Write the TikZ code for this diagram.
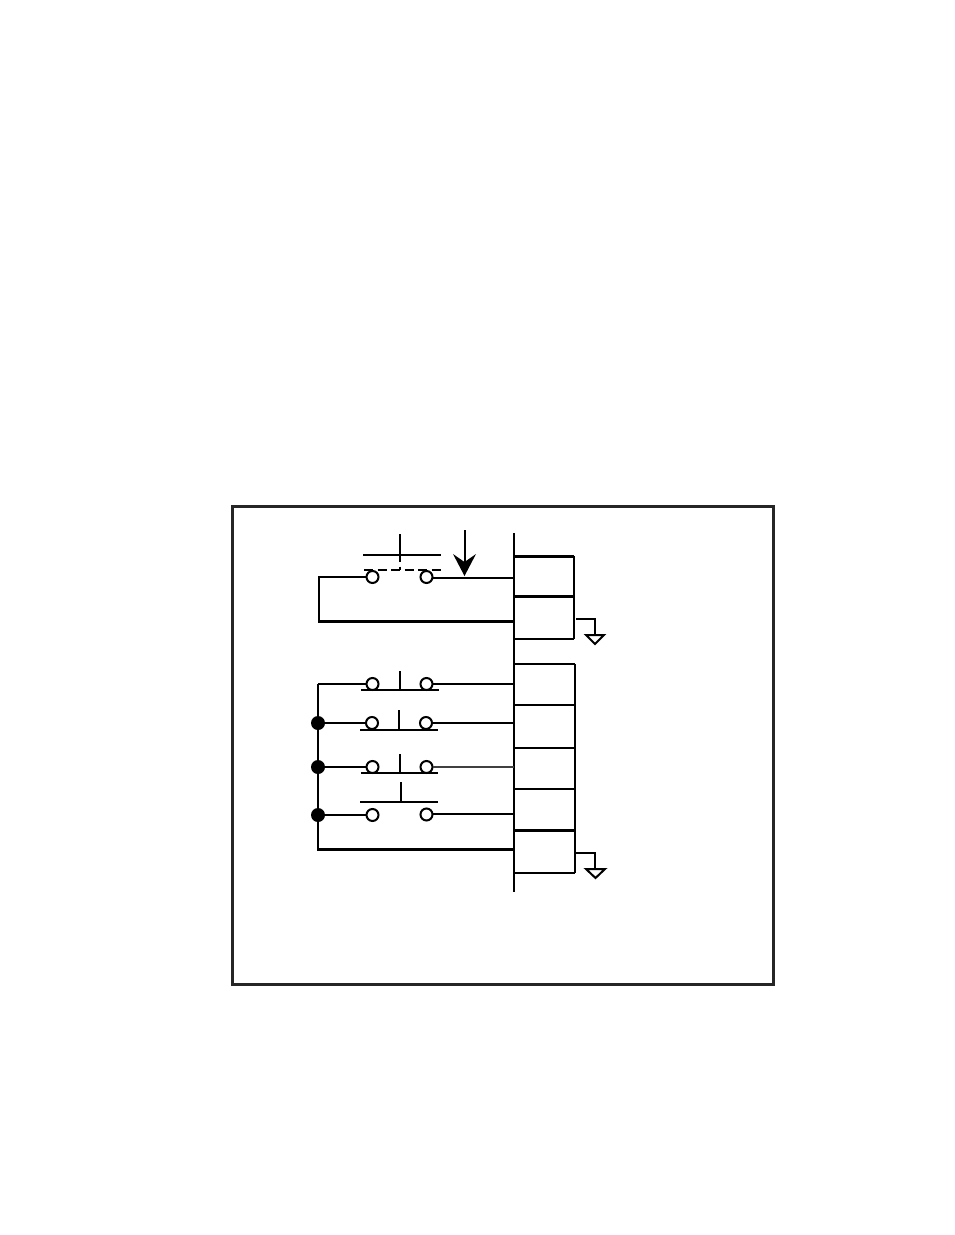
\documentclass[tikz,border=0pt]{standalone}
\tikzset{
  wire/.style={draw=black,line width=2pt},
  thick wire/.style={draw=black,line width=3pt},
  frame/.style={draw=black!85,line width=2.8pt},
  terminal/.style={circle,draw=black,fill=white,line width=2pt,minimum size=12pt,inner sep=0pt,outer sep=0pt},
  junction/.style={circle,fill=black,draw=none,minimum size=14pt,inner sep=0pt,outer sep=0pt},
  groundtri/.style={draw=black,line width=2pt,fill=white,line join=miter},
  pt/.style={coordinate}
}
\begin{document}
\begin{tikzpicture}[x=1pt,y=-1pt]
\useasboundingbox (0,0) rectangle (954,1235);
% frame
\node[pt] (f1) at (232.5,506.5) {};
\node[pt] (f2) at (773.5,984.5) {};
\draw[frame] (f1) rectangle (f2);
% bus
\node[pt] (busT) at (514,533) {};
\node[pt] (busB) at (514,892) {};
\draw[wire] (busT) -- (busB);

% upper block
\node[pt] (a0) at (514,556) {};
\node[pt] (a0r) at (574,556) {};
\node[pt] (a1) at (514,596.5) {};
\node[pt] (a1r) at (574,596.5) {};
\node[pt] (a2) at (514,639) {};
\node[pt] (a2r) at (574,639) {};
\draw[thick wire] (a0) -- (a0r);
\draw[thick wire] (a1) -- (a1r);
\draw[wire] (a2) -- (a2r);
\draw[wire] (a0r) -- (a2r);
% upper ground
\node[pt] (g1a) at (576,619) {};
\node[pt] (g1b) at (595,619) {};
\node[pt] (g1c) at (595,634) {};
\draw[wire] (g1a) -- (g1b) -- (g1c);
\draw[groundtri] (586,635) -- (604,635) -- (595,644) -- cycle;

% arrow
\node[pt] (arT) at (465,530) {};
\node[pt] (arB) at (465,562) {};
\draw[wire] (arT) -- (arB);
\fill[black] (464.5,576) -- (453,554) -- (464.5,562) -- (476,554) -- cycle;

% switch 0
\node[terminal] (s0l) at (372.5,577) {};
\node[terminal] (s0r) at (426.5,577) {};
\node[pt] (s0bl) at (363,555) {};
\node[pt] (s0br) at (441,555) {};
\node[pt] (s0st) at (400,534) {};
\node[pt] (s0sm) at (400,555) {};
\node[pt] (s0sb) at (400,570) {};
\node[pt] (s0dl) at (364,570) {};
\node[pt] (s0dr) at (441,570) {};
\draw[wire] (s0bl) -- (s0br);
\draw[wire] (s0st) -- (s0sm);
\draw[wire,dash pattern=on 7pt off 4.5pt] (s0sm) -- (s0sb);
\draw[wire,dash pattern=on 9pt off 4.5pt] (s0dl) -- (s0dr);
\node[pt] (s0e) at (514,578) {};
\node[pt] (s0c) at (319,577) {};
\node[pt] (s0d) at (319,621) {};
\node[pt] (s0f) at (514,621) {};
\draw[wire] (s0l) -- (s0c) -- (s0d);
\draw[wire] (s0r.east |- s0e) -- (s0e);
\draw[thick wire] (318,621) -- (s0f);

% lower block
\node[pt] (b0) at (514,664) {};
\node[pt] (b0r) at (575,664) {};
\node[pt] (b1) at (514,705) {};
\node[pt] (b1r) at (575,705) {};
\node[pt] (b2) at (514,748) {};
\node[pt] (b2r) at (575,748) {};
\node[pt] (b3) at (514,789) {};
\node[pt] (b3r) at (575,789) {};
\node[pt] (b4) at (514,830) {};
\node[pt] (b4r) at (575,830) {};
\node[pt] (b5) at (514,873) {};
\node[pt] (b5r) at (575,873) {};
\draw[wire] (b0) -- (b0r);
\draw[wire] (b1) -- (b1r);
\draw[wire] (b2) -- (b2r);
\draw[wire] (b3) -- (b3r);
\draw[thick wire] (b4) -- (b4r);
\draw[wire] (b5) -- (b5r);
\draw[wire] (b0r) -- (b5r);
% lower ground
\node[pt] (g2a) at (576,853) {};
\node[pt] (g2b) at (595,853) {};
\node[pt] (g2c) at (595,869) {};
\draw[wire] (g2a) -- (g2b) -- (g2c);
\draw[groundtri] (586,869) -- (605,869) -- (595.5,878) -- cycle;

% left bus
\node[pt] (lT) at (318,684) {};
\node[pt] (lB) at (318,849.5) {};
\node[pt] (lE) at (514,849.5) {};
\draw[wire] (lT) -- (lB);
\draw[thick wire] (317,849.5) -- (lE);

% switch 1
\node[terminal] (s1l) at (372.5,684) {};
\node[terminal] (s1r) at (426.5,684) {};
\node[pt] (s1bl) at (361,690) {};
\node[pt] (s1br) at (438.5,690) {};
\node[pt] (s1st) at (400,671) {};
\node[pt] (s1sb) at (400,690) {};
\node[pt] (s1e) at (514,684) {};
\draw[wire] (s1bl) -- (s1br);
\draw[wire] (s1st) -- (s1sb);
\draw[wire] (lT) -- (s1l);
\draw[wire] (s1r) -- (s1e);

% switch 2
\node[junction] (j2) at (318,723) {};
\node[terminal] (s2l) at (372,723) {};
\node[terminal] (s2r) at (426,723) {};
\node[pt] (s2bl) at (360,730) {};
\node[pt] (s2br) at (438,730) {};
\node[pt] (s2st) at (399,710) {};
\node[pt] (s2sb) at (399,730) {};
\node[pt] (s2e) at (514,723) {};
\draw[wire] (s2bl) -- (s2br);
\draw[wire] (s2st) -- (s2sb);
\draw[wire] (j2) -- (s2l);
\draw[wire] (s2r) -- (s2e);

% switch 3
\node[junction] (j3) at (318,767) {};
\node[terminal] (s3l) at (372.5,767) {};
\node[terminal] (s3r) at (426.5,767) {};
\node[pt] (s3bl) at (361,773) {};
\node[pt] (s3br) at (438,773) {};
\node[pt] (s3st) at (400,754) {};
\node[pt] (s3sb) at (400,773) {};
\node[pt] (s3e) at (514,767) {};
\draw[wire] (s3bl) -- (s3br);
\draw[wire] (s3st) -- (s3sb);
\draw[wire] (j3) -- (s3l);
\draw[wire,draw=black!75] (s3r) -- (s3e);

% switch 4
\node[junction] (j4) at (318,815) {};
\node[terminal] (s4l) at (372.5,815) {};
\node[terminal] (s4r) at (426.5,814.5) {};
\node[pt] (s4bl) at (360,802) {};
\node[pt] (s4br) at (438,802) {};
\node[pt] (s4st) at (401,782) {};
\node[pt] (s4sb) at (401,802) {};
\node[pt] (s4e) at (514,814) {};
\draw[wire] (s4bl) -- (s4br);
\draw[wire] (s4st) -- (s4sb);
\draw[wire] (j4) -- (s4l);
\draw[wire] (s4r.east |- s4e) -- (s4e);
\end{tikzpicture}
\end{document}
